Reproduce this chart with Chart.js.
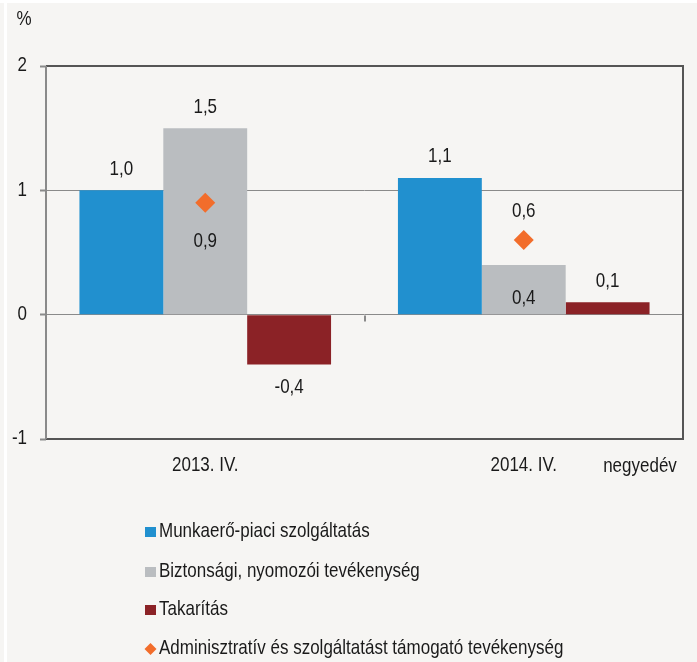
<!DOCTYPE html>
<html lang="hu">
<head>
<meta charset="UTF-8">
<title>Negyedév</title>
<script src="https://cdn.jsdelivr.net/npm/chart.js"></script>
<style>
  html, body { margin: 0; padding: 0; background: #f6f5f3; }
  #wrap { position: relative; width: 697px; height: 662px; }
</style>
</head>
<body>
<div id="wrap"><canvas id="myChart" width="697" height="662"></canvas></div>
<script>
// adatok
const categories = ['2013. IV.', '2014. IV.'];
const seriesNames = [
  'Munkaerő-piaci szolgáltatás',
  'Biztonsági, nyomozói tevékenység',
  'Takarítás',
  'Adminisztratív és szolgáltatást támogató tevékenység'
];
const munkaero = [1.0, 1.1];
const biztonsagi = [1.5, 0.4];
const takaritas = [-0.4, 0.1];
const adminisztrativ = [0.9, 0.6];
const yTicks = [-1, 0, 1, 2];

// hova kerüljön a címke (felül / alul / oszlopon belül)
const labelSide = [
  ['top', 'top'],
  ['top', 'inside'],
  ['below', 'top'],
  ['below', 'top']
];

const colors = ['#2190cf', '#babdc0', '#8b2226', '#f26d2b'];
const FONT = '"Liberation Sans", Arial, sans-serif';
const fmt = v => v.toFixed(1).replace('.', ',');

// az eredeti szövegek kicsit magasabbak, ezért függőlegesen nyújtjuk
function txt(ctx, s, x, y) {
  ctx.save();
  ctx.translate(x, y);
  ctx.scale(1, 1.15);
  ctx.fillText(s, 0, 0);
  ctx.restore();
}

const bgPlugin = {
  id: 'bg',
  beforeDraw(chart) {
    const ctx = chart.ctx;
    ctx.save();
    ctx.fillStyle = '#f6f5f3';
    ctx.fillRect(0, 0, chart.width, chart.height);
    ctx.fillStyle = '#ffffff';
    ctx.fillRect(0, 0, chart.width, 3);
    ctx.fillRect(4, 0, 3, chart.height);
    ctx.restore();
  }
};

const extrasPlugin = {
  id: 'extras',
  afterDatasetsDraw(chart) {
    const ctx = chart.ctx;
    const area = chart.chartArea;
    const x = chart.scales.x, y = chart.scales.y;
    ctx.save();
    // keret
    ctx.strokeStyle = '#555555';
    ctx.lineWidth = 2;
    ctx.beginPath();
    ctx.moveTo(area.left, area.top);
    ctx.lineTo(area.right, area.top);
    ctx.lineTo(area.right, area.bottom);
    ctx.lineTo(area.left, area.bottom);
    ctx.stroke();
    ctx.strokeStyle = '#8a8a8a';
    ctx.beginPath();
    ctx.moveTo(area.left, area.top);
    ctx.lineTo(area.left, area.bottom);
    ctx.stroke();
    // kis jel a kategóriák között a nulla vonalon
    const y0 = Math.round(y.getPixelForValue(0)) + 0.5;
    const mid = Math.round((x.getPixelForValue(0) + x.getPixelForValue(1)) / 2);
    ctx.lineWidth = 2;
    ctx.beginPath();
    ctx.moveTo(mid, y0);
    ctx.lineTo(mid, y0 + 6);
    ctx.stroke();

    ctx.font = '17px ' + FONT;
    ctx.fillStyle = '#1a1a1a';
    ctx.textBaseline = 'middle';

    // tengelyfeliratok
    ctx.textAlign = 'right';
    y.ticks.forEach(t => txt(ctx, String(t.value), 27, y.getPixelForValue(t.value)));
    ctx.textAlign = 'center';
    categories.forEach((c, i) => txt(ctx, c, x.getPixelForValue(i), 466));
    txt(ctx, '%', 24, 20);
    txt(ctx, 'negyedév', 640, 467);

    // értékcímkék
    chart.data.datasets.forEach((ds, i) => {
      const meta = chart.getDatasetMeta(i);
      meta.data.forEach((el, j) => {
        const v = ds.data[j];
        const side = labelSide[i][j];
        let ty;
        if (ds.type === 'line') {
          ty = side === 'top' ? el.y - 28 : el.y + 39;
        } else if (side === 'top') {
          ty = el.y - 21;
        } else if (side === 'below') {
          ty = el.y + 23;
        } else {
          ty = el.base - 16;
        }
        txt(ctx, fmt(v), el.x, ty);
      });
    });

    // jelmagyarázat
    const lx = 145, ly = [532, 572, 610, 649];
    ctx.textAlign = 'left';
    seriesNames.forEach((name, i) => {
      ctx.fillStyle = colors[i];
      if (i < 3) {
        ctx.fillRect(lx, ly[i] - 5, 11, 10);
      } else {
        ctx.beginPath();
        ctx.moveTo(lx + 5.5, ly[i] - 6);
        ctx.lineTo(lx + 11.5, ly[i]);
        ctx.lineTo(lx + 5.5, ly[i] + 6);
        ctx.lineTo(lx - 0.5, ly[i]);
        ctx.closePath();
        ctx.fill();
      }
      ctx.fillStyle = '#1a1a1a';
      txt(ctx, name, lx + 14, ly[i]);
    });
    ctx.restore();
  }
};

const barDs = (label, data, color) => ({
  type: 'bar',
  label: label,
  data: data,
  backgroundColor: color,
  borderWidth: 0,
  barPercentage: 1.0,
  categoryPercentage: 0.79,
  order: 1
});

new Chart(document.getElementById('myChart').getContext('2d'), {
  data: {
    labels: categories,
    datasets: [
      barDs(seriesNames[0], munkaero, colors[0]),
      barDs(seriesNames[1], biztonsagi, colors[1]),
      barDs(seriesNames[2], takaritas, colors[2]),
      {
        type: 'line',
        label: seriesNames[3],
        data: adminisztrativ,
        showLine: false,
        pointStyle: 'rectRot',
        pointRadius: 10,
        pointBorderWidth: 0,
        pointBackgroundColor: colors[3],
        pointBorderColor: colors[3],
        order: 0
      }
    ]
  },
  plugins: [bgPlugin, extrasPlugin],
  options: {
    responsive: false,
    animation: false,
    events: [],
    layout: { padding: { top: 66, right: 14, bottom: 183, left: 0 } },
    plugins: { legend: { display: false }, tooltip: { enabled: false } },
    scales: {
      x: {
        offset: true,
        grid: { display: false, drawTicks: false },
        border: { display: false },
        ticks: { color: 'rgba(0,0,0,0)', font: { family: FONT, size: 17 }, padding: 19 },
        afterFit(scale) { scale.height = 40; }
      },
      y: {
        min: yTicks[0],
        max: yTicks[yTicks.length - 1],
        afterBuildTicks(scale) { scale.ticks = yTicks.map(v => ({ value: v })); },
        grid: {
          color: c => (c.tick && (c.tick.value === 0 || c.tick.value === 1)) ? '#8a8a8a' : 'rgba(0,0,0,0)',
          lineWidth: 1,
          drawTicks: true,
          tickLength: 6,
          tickColor: '#8a8a8a',
          tickWidth: 2
        },
        border: { display: false },
        ticks: {
          color: 'rgba(0,0,0,0)',
          font: { family: FONT, size: 17 },
          padding: 13,
          callback: v => String(v)
        },
        afterFit(scale) { scale.width = 46; }
      }
    }
  }
});
</script>
</body>
</html>
